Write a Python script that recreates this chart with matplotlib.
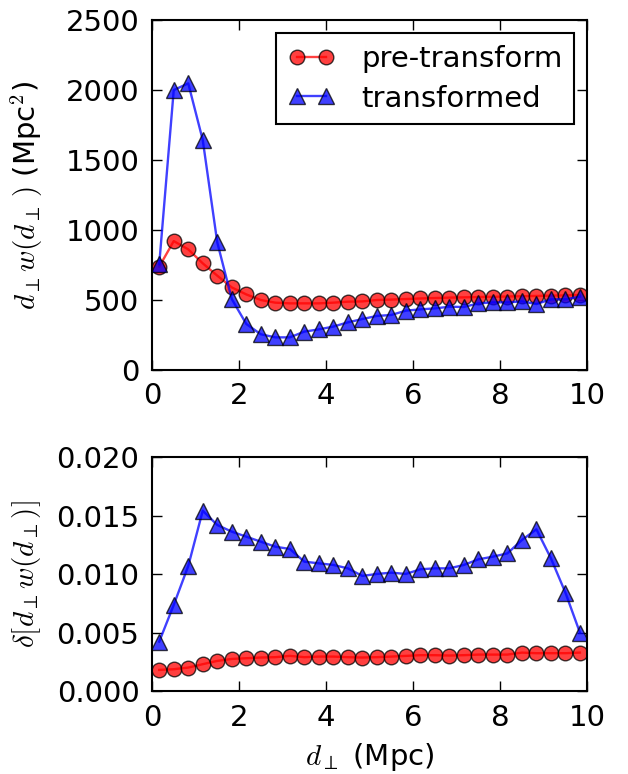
import numpy as np
import matplotlib
matplotlib.use("Agg")
import matplotlib.pyplot as plt

plt.rcParams['font.family'] = ['DejaVu Sans']
plt.rcParams['mathtext.fontset'] = 'cm'
plt.rcParams['font.size'] = 21

# bin centres (Mpc)
d_perp = np.arange(30) / 3.0 + 1.0 / 6.0
x_ticks = [0, 2, 4, 6, 8, 10]

# top panel: d_perp * w(d_perp)
pre_w = [738, 921, 862, 762, 674, 590, 540, 500, 481, 476,
         476, 476, 481, 488, 490, 500, 503, 507, 511, 514,
         517, 519, 521, 523, 525, 527, 529, 531, 533, 536]
trans_w = [755, 2000, 2048, 1643, 912, 507, 329, 255, 233, 233,
           274, 290, 310, 340, 364, 386, 393, 424, 433, 440,
           452, 450, 476, 483, 483, 490, 471, 505, 505, 524]

# bottom panel: errors
pre_err = [0.00182, 0.00188, 0.00202, 0.00231, 0.00259, 0.00276, 0.00282, 0.00288, 0.00291, 0.00302,
           0.00291, 0.00296, 0.00296, 0.00291, 0.00288, 0.00291, 0.00296, 0.00302, 0.00308, 0.00308,
           0.00305, 0.00308, 0.00313, 0.00313, 0.00313, 0.00330, 0.00325, 0.00325, 0.00325, 0.00330]
trans_err = [0.00424, 0.00738, 0.01071, 0.01544, 0.01422, 0.01365, 0.01322, 0.01279, 0.01236, 0.01217,
             0.01108, 0.01094, 0.01080, 0.01051, 0.00986, 0.01003, 0.01014, 0.01003, 0.01043, 0.01051,
             0.01051, 0.01080, 0.01128, 0.01151, 0.01179, 0.01293, 0.01385, 0.01137, 0.00843, 0.00501]

fig = plt.figure(figsize=(6.28, 7.74), dpi=100)
ax1 = fig.add_axes([0.242, 0.522, 0.693, 0.452])
ax2 = fig.add_axes([0.242, 0.107, 0.693, 0.302])

red_style = dict(color='red', marker='o', markersize=10.5, lw=1.7, alpha=0.75,
                 markeredgecolor='black', markeredgewidth=1)
blue_style = dict(color='blue', marker='^', markersize=11, lw=1.7, alpha=0.75,
                  markeredgecolor='black', markeredgewidth=1)

ax1.plot(d_perp, pre_w, label='pre-transform', **red_style)
ax1.plot(d_perp, trans_w, label='transformed', **blue_style)
ax1.set_xlim(0, 10)
ax1.set_ylim(0, 2500)
ax1.set_ylabel(r'$d_\perp w(d_\perp\,)$ (Mpc$^2$)')
leg = ax1.legend(loc='upper right', numpoints=2, fancybox=False, framealpha=1,
                 edgecolor='black', borderaxespad=0.45, handlelength=1.6,
                 handletextpad=0.9, labelspacing=0.4)
leg.get_frame().set_linewidth(1.5)

ax2.plot(d_perp, pre_err, **red_style)
ax2.plot(d_perp, trans_err, **blue_style)
ax2.set_xlim(0, 10)
ax2.set_ylim(0, 0.02)
ax2.set_yticks([0, 0.005, 0.01, 0.015, 0.02])
ax2.set_ylabel(r'$\delta[d_\perp w(d_\perp)]$')
ax2.set_xlabel(r'$d_\perp$ (Mpc)', labelpad=7)

for ax in (ax1, ax2):
    ax.set_xticks(x_ticks)
    ax.tick_params(direction='in', top=True, right=True, length=7, width=1, pad=9)
    for sp in ax.spines.values():
        sp.set_linewidth(1.5)

ax1.yaxis.set_label_coords(-0.245, 0.5)
ax2.yaxis.set_label_coords(-0.25, 0.5)

fig.savefig('out.png', dpi=100)
